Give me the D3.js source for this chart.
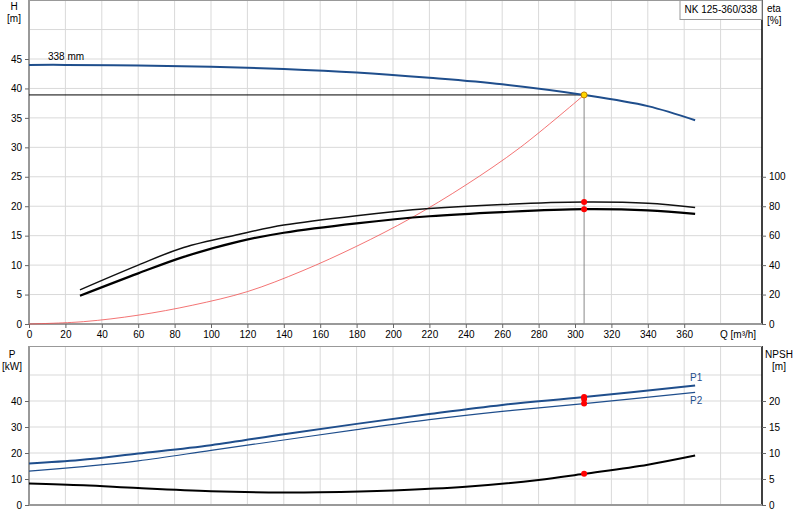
<!DOCTYPE html><html><head><meta charset="utf-8"><script src="https://cdn.jsdelivr.net/npm/d3@7"></script>
<style>body{margin:0;background:#fff}text{font-family:Arial,"Liberation Sans",sans-serif;font-size:10px;fill:#000}</style></head><body><svg id="c" width="800" height="520"></svg><script>
const qTicks=[0,20,40,60,80,100,120,140,160,180,200,220,240,260,280,300,320,340,360];
const hTicks=[0,5,10,15,20,25,30,35,40,45];
const etaTicks=[0,20,40,60,80,100];
const pTicks=[0,10,20,30,40];
const npshTicks=[0,5,10,15,20];
const hQ=[0,20,60,100,140,180,220,260,305,340,366];
const hVal=[44,44,43.9,43.7,43.3,42.7,41.8,40.7,38.9,37,34.6];
const etaQ=[28,60,85,115,140,180,220,260,305,340,366];
const eta1=[23.2,40,52,60.8,67.2,73.6,78.4,81.2,82.8,82,79.2];
const eta2=[19.2,34.4,45.6,56,62,68.4,73.2,76,78,77.2,74.8];
const sysQ=[0,30,60,90,120,150,180,210,240,270,305];
const sysH=[0,0.4,1.5,3.2,5.5,9,13.2,18,23.6,30,38.9];
const pQ=[0,28,60,100,140,180,220,260,305,366];
const p1=[16,17.3,19.8,23,27.2,31.2,35,38.5,41.5,46];
const p2=[13,14.7,17,21,25,29,32.8,36,39,43.3];
const nQ=[0,30,60,100,140,160,200,240,280,305,340,366];
const npsh=[4.15,3.8,3.25,2.65,2.4,2.45,2.8,3.5,4.8,6,7.75,9.5];
const opQ=305,opH=38.9;
const svg=d3.select("#c");
const L=29,R=762;
const x=d3.scaleLinear().domain([0,300]).range([L,575]);
const yH=d3.scaleLinear().domain([0,45]).range([324,59]);
const yE=d3.scaleLinear().domain([0,100]).range([yH(0),yH(25)]);
const yP=d3.scaleLinear().domain([0,40]).range([505,401]);
const yN=d3.scaleLinear().domain([0,20]).range([505,401]);
const xt=d3.range(0,400,20).filter(v=>x(v)<R);
function grid(top,bot,ys,vals){
 xt.forEach(v=>svg.append("line").attr("x1",x(v)).attr("x2",x(v)).attr("y1",top).attr("y2",bot).attr("stroke","#d9d9d9"));
 vals.forEach(v=>svg.append("line").attr("x1",L).attr("x2",R).attr("y1",ys(v)).attr("y2",ys(v)).attr("stroke","#d9d9d9"));
}
grid(0,324,yH,d3.range(0,55,5));
grid(346,505,yP,[0,10,20,30,40,50]);
[[0,324],[346,505]].forEach(([t,b])=>{
 svg.append("line").attr("x1",L).attr("x2",L).attr("y1",t).attr("y2",b).attr("stroke","#999").attr("stroke-width",2);
 svg.append("line").attr("x1",R).attr("x2",R).attr("y1",t).attr("y2",b).attr("stroke","#000").attr("stroke-width",1.5);
 svg.append("line").attr("x1",L).attr("x2",R).attr("y1",b).attr("y2",b).attr("stroke","#999").attr("stroke-width",2);
 svg.append("line").attr("x1",L).attr("x2",R).attr("y1",t+0.5).attr("y2",t+0.5).attr("stroke","#999");
});
const ax=(g,a)=>{g.call(a);g.select(".domain").remove();g.selectAll("line").attr("stroke","#666");g.selectAll("text").style("font-size","10px").style("font-family","Arial");};
ax(svg.append("g").attr("transform",`translate(${L},0)`),d3.axisLeft(yH).tickValues(hTicks).tickSize(4));
ax(svg.append("g").attr("transform",`translate(${R},0)`),d3.axisRight(yE).tickValues(etaTicks).tickSize(4));
ax(svg.append("g").attr("transform",`translate(0,324)`),d3.axisBottom(x).tickValues(qTicks).tickSize(4));
ax(svg.append("g").attr("transform",`translate(${L},0)`),d3.axisLeft(yP).tickValues(pTicks).tickSize(4));
ax(svg.append("g").attr("transform",`translate(${R},0)`),d3.axisRight(yN).tickValues(npshTicks).tickSize(4));
const T=(t,xx,yy,a,c)=>svg.append("text").attr("x",xx).attr("y",yy).attr("text-anchor",a||"start").style("fill",c||"#000").text(t);
T("H",14,10,"middle");T("[m]",14,22,"middle");
T("eta",767,12);T("[%]",767,24);
T("P",12,358,"middle");T("[kW]",12,370,"middle");
T("NPSH",779,358,"middle");T("[m]",779,370,"middle");
T("Q [m³/h]",720,338);
T("338 mm",48,60);
svg.append("rect").attr("x",680).attr("y",0.5).attr("width",82).attr("height",19).attr("fill","#fff").attr("stroke","#999");
T("NK 125-360/338",721,13,"middle");
const line=(xs,ys,yS,col,w)=>svg.append("path").attr("d",d3.line().curve(d3.curveCatmullRom.alpha(0.5))(xs.map((q,i)=>[x(q),yS(ys[i])]))).attr("fill","none").attr("stroke",col).attr("stroke-width",w);
svg.append("line").attr("x1",L).attr("x2",x(opQ)).attr("y1",yH(opH)).attr("y2",yH(opH)).attr("stroke","#000");
svg.append("line").attr("x1",x(opQ)).attr("x2",x(opQ)).attr("y1",yH(opH)).attr("y2",324).attr("stroke","#888");
line(sysQ,sysH,yH,"#f05050",0.8);
line(hQ,hVal,yH,"#1f4e8c",2);
line(etaQ,eta1,yE,"#111",1.5);
line(etaQ,eta2,yE,"#000",2.2);
line(pQ,p1,yP,"#1f4e8c",2);
line(pQ,p2,yP,"#1f4e8c",1.2);
line(nQ,npsh,yN,"#000",2);
T("P1",690,381,"start","#1f4e8c");T("P2",690,404,"start","#1f4e8c");
const dot=(yy,c)=>svg.append("circle").attr("cx",x(opQ)).attr("cy",yy).attr("r",3).attr("fill",c).attr("stroke",c==="#ffd700"?"#c08000":"none");
dot(yE(82.8),"red");dot(yE(78),"red");
dot(yP(41.5),"red");dot(yP(40.8),"red");dot(yP(39),"red");dot(yN(6),"red");
dot(yH(opH),"#ffd700");
</script></body></html>
